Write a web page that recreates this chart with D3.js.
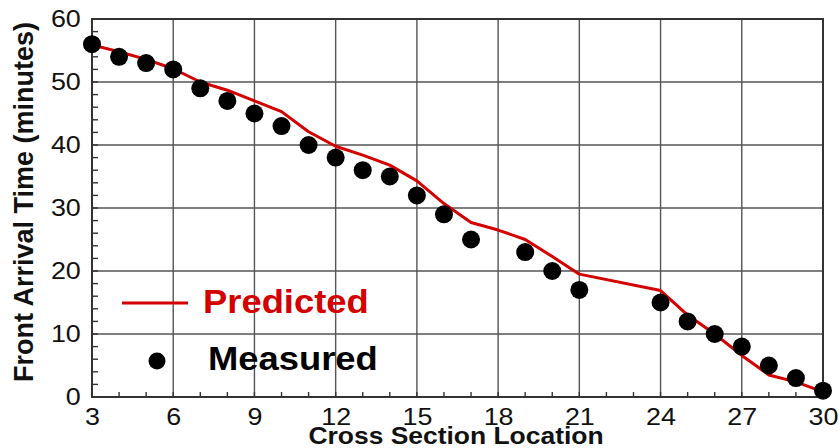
<!DOCTYPE html>
<html>
<head>
<meta charset="utf-8">
<script src="https://cdn.jsdelivr.net/npm/d3@7"></script>
<style>
  html, body { margin: 0; padding: 0; background: #fff; }
  svg { display: block; font-family: "Liberation Sans", Arial, sans-serif; }
</style>
</head>
<body>
<svg id="chart" width="840" height="448"></svg>
<script>
// ---- data ----
const measuredX = [3,4,5,6,7,8,9,10,11,12,13,14,15,16,17,19,20,21,24,25,26,27,28,29,30];
const measuredY = [56,54,53,52,49,47,45,43,40,38,36,35,32,29,25,23,20,17,15,12,10,8,5,3,1];
const predictedX = [3,4,5,6,7,8,9,10,11,12,13,14,15,16,17,18,19,20,21,24,25,26,27,28,29,30];
const predictedY = [55.9,54.8,53.6,52.1,50.0,48.7,47.0,45.3,42.1,39.8,38.4,36.8,34.3,30.7,27.7,26.5,25.0,22.3,19.5,16.9,13.0,10.0,6.6,3.5,2.4,0.8];
const xTicks = [3,6,9,12,15,18,21,24,27,30];
const yTicks = [0,10,20,30,40,50,60];
const legendLabels = ["Predicted", "Measured"];
const xTitle = "Cross Section Location";
const yTitle = "Front Arrival Time (minutes)";

const svg = d3.select("#chart");
const L = 92, R = 823, T = 19, B = 397;
const x = d3.scaleLinear().domain([3, 30]).range([L, R]);
const y = d3.scaleLinear().domain([0, 60]).range([B, T]);
const red = "#d40000";
const gridCol = "#555";
const FF = '"Liberation Sans", Arial, sans-serif';

// grid
const g = svg.append("g");
g.selectAll(".vg").data(xTicks).join("line")
  .attr("x1", d => x(d)).attr("x2", d => x(d)).attr("y1", T).attr("y2", B)
  .attr("stroke", gridCol).attr("stroke-width", 1.4);
g.selectAll(".hg").data(yTicks).join("line")
  .attr("x1", L).attr("x2", R).attr("y1", d => y(d)).attr("y2", d => y(d))
  .attr("stroke", gridCol).attr("stroke-width", 1.4);

// minor ticks
const xMinor = d3.range(3, 31, 1);
const yMinor = d3.range(0, 61, 2);
g.selectAll(".xm").data(xMinor).join("line")
  .attr("x1", d => x(d)).attr("x2", d => x(d)).attr("y1", B).attr("y2", B - 5)
  .attr("stroke", "#333").attr("stroke-width", 1.4);
g.selectAll(".ym").data(yMinor).join("line")
  .attr("x1", L).attr("x2", L + 6).attr("y1", d => y(d)).attr("y2", d => y(d))
  .attr("stroke", "#333").attr("stroke-width", 1.4);

// frame
svg.append("rect").attr("x", L).attr("y", T).attr("width", R - L).attr("height", B - T)
  .attr("fill", "none").attr("stroke", "#333").attr("stroke-width", 2);

// axes labels via d3 axes
const xAxis = svg.append("g").attr("transform", `translate(0,${B})`)
  .call(d3.axisBottom(x).tickValues(xTicks).tickSize(0).tickPadding(0));
xAxis.select(".domain").remove();
xAxis.selectAll("text").attr("font-size", 24).attr("fill", "#111")
  .attr("font-family", FF)
  .attr("dy", null).attr("y", 28).attr("transform", "scale(1.12,1)");

const yAxis = svg.append("g").attr("transform", `translate(${L},0)`)
  .call(d3.axisLeft(y).tickValues(yTicks).tickSize(0).tickPadding(10));
yAxis.select(".domain").remove();
yAxis.selectAll("text").attr("font-size", 24).attr("fill", "#111")
  .attr("font-family", FF).attr("transform", "scale(1.12,1)");

// predicted line
const pts = predictedX.map((d, i) => [d, predictedY[i]]);
svg.append("path").datum(pts)
  .attr("d", d3.line().x(d => x(d[0])).y(d => y(d[1])))
  .attr("fill", "none").attr("stroke", red).attr("stroke-width", 3).attr("stroke-linejoin", "round");

// measured points
svg.selectAll(".pt").data(measuredX.map((d, i) => [d, measuredY[i]])).join("circle")
  .attr("cx", d => x(d[0])).attr("cy", d => y(d[1])).attr("r", 9).attr("fill", "#000");

// legend
svg.append("line").attr("x1", 122).attr("x2", 188).attr("y1", 303).attr("y2", 303)
  .attr("stroke", red).attr("stroke-width", 3);
svg.append("text").attr("transform", "translate(203,313) scale(1.07,1)").text(legendLabels[0])
  .attr("font-size", 34).attr("font-weight", "bold").attr("fill", red);
svg.append("circle").attr("cx", 157).attr("cy", 361).attr("r", 8.5).attr("fill", "#000");
svg.append("text").attr("transform", "translate(208,370) scale(1.07,1)").text(legendLabels[1])
  .attr("font-size", 34).attr("font-weight", "bold").attr("fill", "#000");

// titles
svg.append("text").attr("transform", "translate(456,444) scale(1.15,1)").attr("text-anchor", "middle")
  .attr("font-size", 23).attr("font-weight", "bold").attr("fill", "#111").text(xTitle);
svg.append("text").attr("transform", "translate(33,202) rotate(-90)").attr("text-anchor", "middle")
  .attr("font-size", 27).attr("font-weight", "bold").attr("fill", "#111").text(yTitle);
</script>
</body>
</html>
